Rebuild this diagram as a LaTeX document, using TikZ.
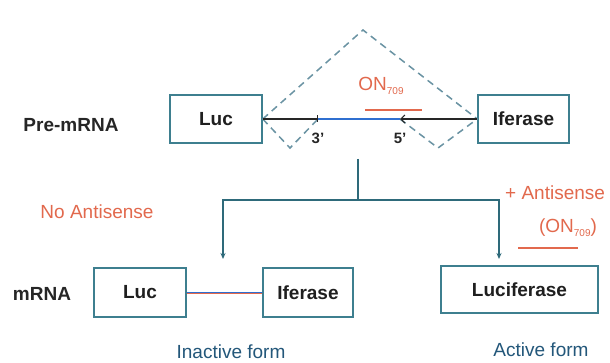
\documentclass[tikz,border=0pt]{standalone}
\usepackage{fontspec}
\setmainfont{Liberation Sans}
\usetikzlibrary{arrows.meta}
\definecolor{boxc}{HTML}{3E7F8F}
\definecolor{dashc}{HTML}{6A93A3}
\definecolor{redc}{HTML}{E2694D}
\definecolor{bluec}{HTML}{2F6FD0}
\definecolor{formc}{HTML}{23577A}
\definecolor{flowc}{HTML}{2E6A7A}
\tikzset{
  rbox/.style={draw=boxc, line width=1.5pt, minimum width=#1, minimum height=48pt, inner sep=0pt,
    font=\fontsize{19}{22}\selectfont\bfseries, text=black!88},
  lbl/.style={font=\fontsize{19}{22}\selectfont\bfseries, text=black!85, inner sep=0pt},
  redtxt/.style={font=\fontsize{19}{22}\selectfont, text=redc, inner sep=0pt},
  formtxt/.style={font=\fontsize{19}{22}\selectfont, text=formc, inner sep=0pt},
  blackline/.style={draw=black!85, line width=1.6pt},
  blueline/.style={draw=bluec, line width=1.6pt},
  redline/.style={draw=redc, line width=1.2pt},
  dline/.style={draw=dashc, line width=1.5pt, dash pattern=on 7pt off 5pt},
  flow/.style={draw=flowc, line width=1.3pt},
  flowarrow/.style={flow, -{Stealth[length=6pt,width=5pt]}}
}
\begin{document}
\begin{tikzpicture}[x=1pt,y=-1pt]
\useasboundingbox[fill=white] (0,0) rectangle (610,363);

% Pre-mRNA row
\node[lbl] (pre) at (71,125) {Pre-mRNA};
\node[rbox=92pt] (luca) at (216,119) {Luc};
\node[rbox=91pt] (ifa) at (523.5,119) {Iferase};
\coordinate (c3) at (318,119);
\coordinate (c5) at (400,119);
\coordinate (peak) at (363,30);
\coordinate (vl) at (290,148);
\coordinate (vr) at (438,148);

\draw[dline] (luca.east) -- (peak) -- (ifa.west);
\draw[dline] (luca.east) -- (vl) -- (c3);
\draw[dline] (c5) -- (vr) -- (ifa.west);

\draw[blackline, -{Bar[width=7pt,line width=1.2pt]}] (luca.east) -- (c3);
\draw[blueline] (c3) -- (c5);
\draw[blackline, {Straight Barb[length=4pt,width=8pt,line width=1.2pt]}-] (c5) -- (ifa.west);

\node[font=\fontsize{15}{18}\selectfont\bfseries, text=black!85, inner sep=0pt] (t3) at (318,138) {3'};
\node[font=\fontsize{15}{18}\selectfont\bfseries, text=black!85, inner sep=0pt] (t5) at (400,138) {5'};

\node[redtxt] (on) at (381,86) {ON\raisebox{-4pt}{\fontsize{10}{10}\selectfont 709}};
\coordinate (onu1) at (365,110);
\coordinate (onu2) at (422,110);
\draw[redline] (onu1) -- (onu2);

% branching
\coordinate (tr0) at (358,159);
\coordinate (tr1) at (358,200);
\coordinate (al) at (223,259);
\coordinate (ar) at (499,259);
\draw[flow] (tr0) -- (tr1);
\draw[flowarrow] (tr1) -| (al);
\draw[flowarrow] (tr1) -| (ar);

\node[redtxt] (noas) at (97,212) {No Antisense};
\node[redtxt, anchor=west] (plusas) at (505,193) {+ Antisense};
\node[redtxt] (on2) at (568,228) {(ON\raisebox{-4pt}{\fontsize{10}{10}\selectfont 709})};
\coordinate (onv1) at (518,248);
\coordinate (onv2) at (578,248);
\draw[redline] (onv1) -- (onv2);

% mRNA row
\node[lbl] (mrna) at (42,294) {mRNA};
\node[rbox=92pt, minimum height=49pt] (lucb) at (140,292.5) {Luc};
\node[rbox=90pt, minimum height=49pt] (ifb) at (308,292.5) {Iferase};
\node[rbox=157pt, minimum height=47pt] (lucif) at (519.5,289.5) {Luciferase};
\draw[draw=redc, line width=1pt] ([yshift=-1.4pt]lucb.east) -- ([yshift=-1.4pt]ifb.west);
\draw[blueline] (lucb.east) -- (ifb.west);

\node[formtxt] (inact) at (231,352) {Inactive form};
\node[formtxt] (act) at (541,350) {Active form};
\end{tikzpicture}
\end{document}
